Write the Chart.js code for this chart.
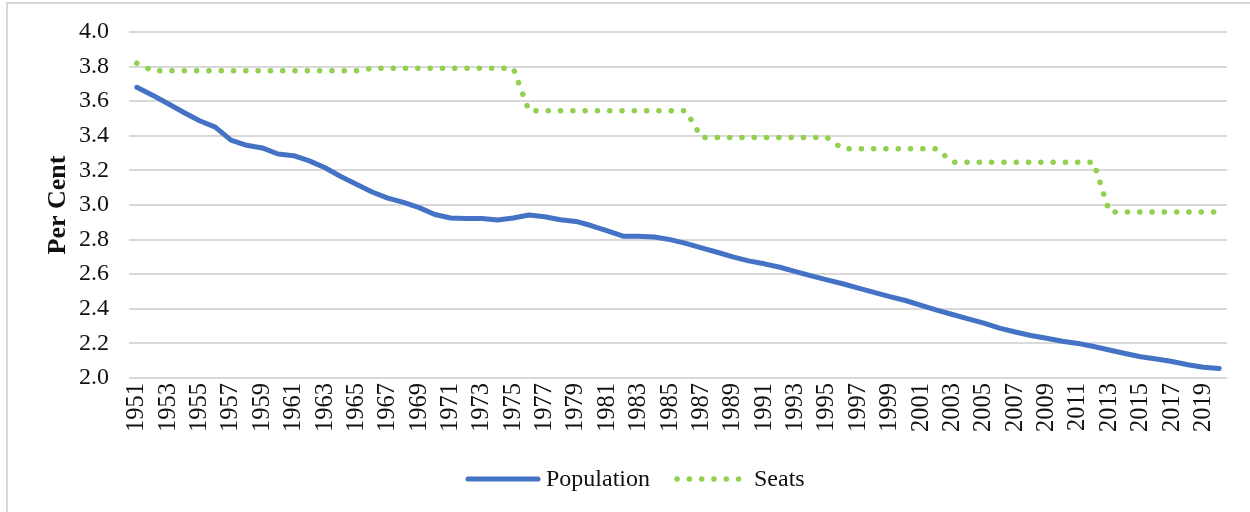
<!DOCTYPE html>
<html>
<head>
<meta charset="utf-8">
<script src="https://cdn.jsdelivr.net/npm/chart.js@4.4.0/dist/chart.umd.min.js"></script>
<style>
  html, body { margin: 0; padding: 0; background: #fff; }
  #wrap { position: relative; width: 1250px; height: 512px; }
  canvas { display: block; }
</style>
</head>
<body>
<div id="wrap"><canvas id="grafico" width="1250" height="512"></canvas></div>
<script>
const anos = [
  "1951","1952","1953","1954","1955","1956","1957","1958","1959","1960",
  "1961","1962","1963","1964","1965","1966","1967","1968","1969","1970",
  "1971","1972","1973","1974","1975","1976","1977","1978","1979","1980",
  "1981","1982","1983","1984","1985","1986","1987","1988","1989","1990",
  "1991","1992","1993","1994","1995","1996","1997","1998","1999","2000",
  "2001","2002","2003","2004","2005","2006","2007","2008","2009","2010",
  "2011","2012","2013","2014","2015","2016","2017","2018","2019","2020"
];

// Population share (per cent)
const populacao = [
  3.680, 3.635, 3.585, 3.535, 3.487, 3.450, 3.375, 3.345, 3.330, 3.295,
  3.285, 3.255, 3.215, 3.165, 3.120, 3.075, 3.040, 3.015, 2.985, 2.945,
  2.925, 2.922, 2.922, 2.913, 2.925, 2.942, 2.932, 2.915, 2.905, 2.880,
  2.850, 2.820, 2.820, 2.815, 2.800, 2.778, 2.752, 2.727, 2.700, 2.677,
  2.660, 2.640, 2.615, 2.590, 2.567, 2.545, 2.520, 2.495, 2.470, 2.448,
  2.420, 2.392, 2.367, 2.342, 2.317, 2.288, 2.266, 2.246, 2.230, 2.212,
  2.200, 2.182, 2.162, 2.142, 2.123, 2.110, 2.095, 2.077, 2.062, 2.055
];

// Seats share (per cent)
const assentos = [
  3.820, 3.776, 3.776, 3.776, 3.776, 3.776, 3.776, 3.776, 3.776, 3.776,
  3.776, 3.776, 3.776, 3.776, 3.776, 3.790, 3.790, 3.790, 3.790, 3.790,
  3.790, 3.790, 3.790, 3.790, 3.790, 3.545, 3.545, 3.545, 3.545, 3.545,
  3.545, 3.545, 3.545, 3.545, 3.545, 3.545, 3.390, 3.390, 3.390, 3.390,
  3.390, 3.390, 3.390, 3.390, 3.390, 3.325, 3.325, 3.325, 3.325, 3.325,
  3.325, 3.325, 3.247, 3.247, 3.247, 3.247, 3.247, 3.247, 3.247, 3.247,
  3.247, 3.247, 2.960, 2.960, 2.960, 2.960, 2.960, 2.960, 2.960, 2.960
];

const fonte = "'Liberation Serif', 'Times New Roman', serif";
const corTexto = "#111111";

// moldura cinza (só topo e esquerda aparecem) + legenda desenhada à mão
const extras = {
  id: "extras",
  beforeDraw(chart) {
    const ctx = chart.ctx;
    ctx.save();
    ctx.strokeStyle = "#d9d9d9";
    ctx.lineWidth = 2;
    ctx.beginPath();
    ctx.moveTo(7, 512);
    ctx.lineTo(7, 3);
    ctx.lineTo(1250, 3);
    ctx.stroke();
    ctx.restore();
  },
  afterDraw(chart) {
    const ctx = chart.ctx;
    const y = 479;
    ctx.save();
    ctx.font = "24px " + fonte;
    ctx.textBaseline = "middle";
    ctx.fillStyle = corTexto;
    let x = 468;
    chart.data.datasets.forEach((ds, i) => {
      const largura = i === 0 ? 70 : 65;
      ctx.beginPath();
      ctx.strokeStyle = ds.borderColor;
      ctx.lineWidth = ds.borderWidth;
      ctx.lineCap = "round";
      ctx.setLineDash(ds.borderDash || []);
      ctx.moveTo(x, y);
      ctx.lineTo(x + largura, y);
      ctx.stroke();
      ctx.setLineDash([]);
      x += largura + (i === 0 ? 8 : 12);
      ctx.fillText(ds.label, x, y + 1);
      x += ctx.measureText(ds.label).width + 27;
    });
    ctx.restore();
  }
};

new Chart(document.getElementById("grafico"), {
  type: "line",
  data: {
    labels: anos,
    datasets: [
      {
        label: "Population",
        data: populacao,
        borderColor: "#4472c4",
        borderWidth: 5,
        pointRadius: 0,
        tension: 0,
        borderJoinStyle: "round",
        borderCapStyle: "round"
      },
      {
        label: "Seats",
        data: assentos,
        borderColor: "#92d050",
        borderWidth: 5.5,
        borderDash: [0.1, 12.2],
        borderCapStyle: "round",
        pointRadius: 0,
        tension: 0
      }
    ]
  },
  options: {
    responsive: false,
    animation: false,
    devicePixelRatio: 1,
    layout: { padding: { top: 32, right: 23, bottom: 0, left: 0 } },
    plugins: {
      legend: { display: false },
      tooltip: { enabled: false }
    },
    scales: {
      x: {
        type: "category",
        offset: true,
        grid: { display: false, drawTicks: false },
        border: { display: false },
        afterFit(scale) { scale.height = 134; },
        ticks: {
          autoSkip: false,
          maxRotation: 90,
          minRotation: 90,
          padding: 5,
          color: corTexto,
          font: { family: fonte, size: 24.5, lineHeight: 1 },
          callback(val, idx) { return idx % 2 === 0 ? anos[idx] : ""; }
        }
      },
      y: {
        min: 2,
        max: 4,
        grid: { color: "#d9d9d9", lineWidth: 2, drawTicks: false },
        border: { display: false },
        afterFit(scale) { scale.width = 129; },
        ticks: {
          stepSize: 0.2,
          padding: 20,
          color: corTexto,
          font: { family: fonte, size: 24, lineHeight: 1 },
          callback(v) { return v.toFixed(1); }
        },
        title: {
          display: true,
          text: "Per Cent",
          color: corTexto,
          font: { family: fonte, size: 26, weight: "bold" },
          padding: { top: 43, bottom: 0 }
        }
      }
    }
  },
  plugins: [extras]
});
</script>
</body>
</html>
